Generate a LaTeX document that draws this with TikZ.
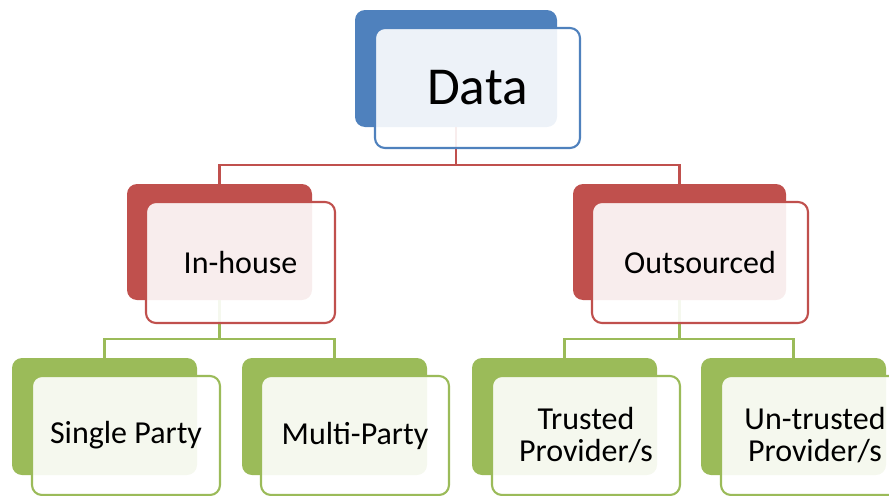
\documentclass[tikz,border=0pt]{standalone}
\usepackage{fontspec}
\setmainfont{Carlito}
\usepackage{xcolor}

\definecolor{hblue}{HTML}{4F81BD}
\definecolor{hred}{HTML}{C0504D}
\definecolor{hgreen}{HTML}{9BBB59}

\tikzset{
  backbox/.style={rectangle, rounded corners=7.5pt, fill=#1, inner sep=0pt,
    minimum width=138.75pt, minimum height=87.75pt},
  frontbox/.style={rectangle, rounded corners=7.5pt, draw=#1, line width=1.6pt,
    fill=white, fill opacity=0.9, text opacity=1, inner sep=0pt, align=center,
    minimum width=141pt, minimum height=89.25pt,
    font=\fontsize{24}{24}\selectfont},
  link/.style={#1, line width=1.7pt}
}

\begin{document}
\begin{tikzpicture}[x=0.75pt, y=-0.75pt]
    \useasboundingbox (0,0) rectangle (889,496);
    \clip (0,0) rectangle (889,496);
    % solid blocks behind
    \node[backbox=hblue, minimum width=151.5pt] (dataB) at (456, 68.5) {};
    \node[backbox=hred, minimum height=87pt] (inB) at (219.5, 242) {};
    \node[backbox=hred, minimum width=159.75pt, minimum height=87pt] (outB) at (679.5, 242) {};
    \node[backbox=hgreen] (singleB) at (104.5, 416.5) {};
    \node[backbox=hgreen] (multiB) at (334.5, 416.5) {};
    \node[backbox=hgreen] (trustB) at (564.5, 416.5) {};
    \node[backbox=hgreen] (untrustB) at (793.5, 416.5) {};
    % tree lines
    \draw[link=hred] (dataB.south) -- ++(0,38) -| (inB.north);
    \draw[link=hred] (dataB.south) -- ++(0,38) -| (outB.north);
    \draw[link=hgreen] (inB.south) -- ++(0,39) -| (singleB.north);
    \draw[link=hgreen] (inB.south) -- ++(0,39) -| (multiB.north);
    \draw[link=hgreen] (outB.south) -- ++(0,39) -| (trustB.north);
    \draw[link=hgreen] (outB.south) -- ++(0,39) -| (untrustB.north);
    % labelled boxes in front
    \node[frontbox=hblue, minimum width=153.75pt, minimum height=90pt,
      font=\fontsize{40}{40}\selectfont] (data) at (477.5, 88) {Data};
    \node[frontbox=hred, minimum width=141.75pt, minimum height=90.75pt] (inhouse) at (240.5, 262.5) {In-house};
    \node[frontbox=hred, minimum width=162pt, minimum height=90.75pt] (outsrc) at (700, 262.5) {Outsourced};
    \node[frontbox=hgreen] (single) at (126, 435.5) {Single Party};
    \node[frontbox=hgreen] (multi) at (355, 435.5) {Multi-Party};
    \node[frontbox=hgreen] (trust) at (586, 435.5) {Trusted\\Provider/s};
    \node[frontbox=hgreen] (untrust) at (815, 435.5) {Un-trusted\\Provider/s};
\end{tikzpicture}
\end{document}
